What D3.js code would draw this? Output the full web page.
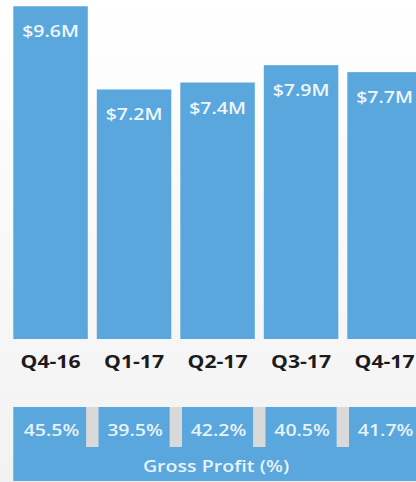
<!DOCTYPE html>
<html>
<head>
<meta charset="utf-8">
<script src="https://cdn.jsdelivr.net/npm/d3@7"></script>
<style>
  html, body { margin: 0; padding: 0; background: #f6f6f6; }
  svg { display: block; }
  text { font-family: "Open Sans", "Noto Sans", sans-serif; }
</style>
</head>
<body>
<svg id="chart" width="416" height="482"></svg>
<script>
// Quarterly revenue ($M) and gross profit margin (%)
const quarters = ["Q4-16", "Q1-17", "Q2-17", "Q3-17", "Q4-17"];
const revenue = [9.6, 7.2, 7.4, 7.9, 7.7];
const grossProfit = [45.5, 39.5, 42.2, 40.5, 41.7];
const marginTitle = "Gross Profit (%)";

const W = 416, H = 482;
const blue = "#59a7dc";
const sepGray = "#d9d9d9";
const stretch = 1.19; // wide lettering

const svg = d3.select("#chart");

// soft background, lighter at the top
const defs = svg.append("defs");
const grad = defs.append("linearGradient")
  .attr("id", "bg").attr("x1", 0).attr("y1", 0).attr("x2", 0).attr("y2", 1);
grad.append("stop").attr("offset", "0%").attr("stop-color", "#ffffff");
grad.append("stop").attr("offset", "100%").attr("stop-color", "#f2f2f2");
svg.append("rect").attr("width", W).attr("height", H).attr("fill", "url(#bg)");

const x = d3.scaleBand()
  .domain(quarters)
  .range([13.3, 421.8])
  .paddingInner(0.108)
  .paddingOuter(0);

const baseY = 339;
const y = d3.scaleLinear()
  .domain([0, 10])
  .range([baseY, baseY - 346.6]);

const rows = quarters.map((q, i) => ({ q, rev: revenue[i], gp: grossProfit[i] }));

// revenue bars
svg.append("g").selectAll("rect")
  .data(rows)
  .join("rect")
  .attr("x", d => x(d.q))
  .attr("y", d => y(d.rev))
  .attr("width", x.bandwidth())
  .attr("height", d => y(0) - y(d.rev))
  .attr("fill", blue);

function wideText(sel) {
  return sel.attr("x", 0).attr("y", 0).attr("text-anchor", "middle");
}

// value labels inside the bars
svg.append("g").selectAll("text")
  .data(rows)
  .join("text")
  .call(wideText)
  .attr("transform", d => `translate(${x(d.q) + x.bandwidth() / 2},${y(d.rev) + 31}) scale(${stretch},1)`)
  .attr("font-size", 16.4)
  .attr("font-weight", 600)
  .attr("fill", "#eef6fc")
  .text(d => "$" + d.rev.toFixed(1) + "M");

// quarter labels
svg.append("g").selectAll("text")
  .data(rows)
  .join("text")
  .call(wideText)
  .attr("transform", d => `translate(${x(d.q) + x.bandwidth() / 2},368.3) scale(${stretch},1)`)
  .attr("font-size", 17.8)
  .attr("font-weight", 700)
  .attr("fill", "#1b1b1b")
  .text(d => d.q);

// gross profit strip
const stripTop = 407, stripBottom = 481, sepBottom = 447;
svg.append("rect")
  .attr("x", x(quarters[0]))
  .attr("y", stripTop)
  .attr("width", W + 10 - x(quarters[0]))
  .attr("height", stripBottom - stripTop)
  .attr("fill", blue);

const gap = x.step() - x.bandwidth();
svg.append("g").selectAll("rect")
  .data(quarters.slice(1))
  .join("rect")
  .attr("x", q => x(q) - gap / 2 - 6.2)
  .attr("y", stripTop)
  .attr("width", 12.4)
  .attr("height", sepBottom - stripTop)
  .attr("fill", sepGray);

svg.append("g").selectAll("text")
  .data(rows)
  .join("text")
  .call(wideText)
  .attr("transform", d => `translate(${x(d.q) + x.bandwidth() / 2 + 1},436) scale(${stretch},1)`)
  .attr("font-size", 16.4)
  .attr("font-weight", 600)
  .attr("fill", "#e8f2fa")
  .text(d => d.gp.toFixed(1) + "%");

svg.append("text")
  .call(wideText)
  .attr("transform", `translate(216,471.5) scale(${stretch},1)`)
  .attr("font-size", 16.5)
  .attr("font-weight", 600)
  .attr("fill", "#e8f2fa")
  .text(marginTitle);
</script>
</body>
</html>
